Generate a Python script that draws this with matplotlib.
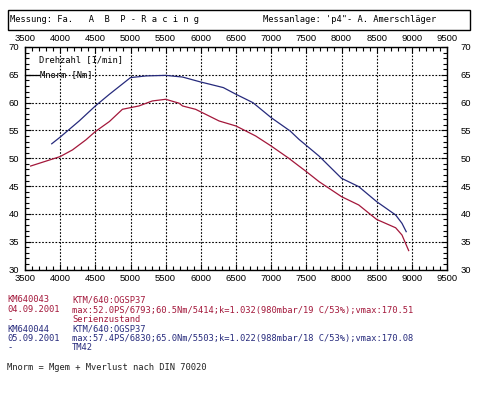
import matplotlib
matplotlib.use("Agg")
import matplotlib.pyplot as plt
from matplotlib.patches import Rectangle
from matplotlib.ticker import MultipleLocator

# ---- data ----
red_rpm = [3580, 4000, 4175, 4365, 4500, 4700, 4885, 5000, 5120, 5310, 5500, 5690,
           5740, 5925, 6260, 6500, 6780, 7000, 7250, 7395, 7500, 7680, 8000, 8245,
           8500, 8770, 8860, 8955]
red_nm = [48.6, 50.3, 51.5, 53.3, 54.8, 56.6, 58.8, 59.1, 59.4, 60.3, 60.6, 59.9,
          59.4, 58.8, 56.7, 55.8, 54.0, 52.2, 50.0, 48.6, 47.6, 45.8, 43.1, 41.6,
          39.0, 37.5, 36.2, 33.4]
blue_rpm = [3880, 4000, 4270, 4500, 4700, 5000, 5220, 5500, 5740, 6000, 6130, 6320,
            6500, 6740, 7000, 7270, 7395, 7500, 7680, 8000, 8245, 8500, 8770, 8860, 8920]
blue_nm = [52.6, 53.8, 56.7, 59.4, 61.5, 64.5, 64.8, 64.9, 64.6, 63.7, 63.3, 62.7,
           61.5, 60.0, 57.3, 54.9, 53.4, 52.3, 50.4, 46.4, 44.9, 42.2, 39.8, 38.3, 36.8]

x_ticks = [3500, 4000, 4500, 5000, 5500, 6000, 6500, 7000, 7500, 8000, 8500, 9000, 9500]
y_ticks = [30, 35, 40, 45, 50, 55, 60, 65, 70]

header_left = "Messung: Fa.   A  B  P - R a c i n g"
header_right = "Messanlage: 'p4\"- A. Amerschläger"
run1 = ["KM640043", "04.09.2001", "-"]
run1_info = ["KTM/640:OGSP37",
             "max:52.0PS/6793;60.5Nm/5414;k=1.032(980mbar/19 C/53%);vmax:170.51",
             "Serienzustand"]
run2 = ["KM640044", "05.09.2001", "-"]
run2_info = ["KTM/640:OGSP37",
             "max:57.4PS/6830;65.0Nm/5503;k=1.022(988mbar/18 C/53%);vmax:170.08",
             "TM42"]
footer = "Mnorm = Mgem + Mverlust nach DIN 70020"

RED = "#a3173a"
BLUE = "#262a7c"
W, H = 499, 397

fig = plt.figure(figsize=(W / 100, H / 100), dpi=100)
fig.patch.set_facecolor("white")

def fx(px):
    return px / W

def fy(py):
    return 1 - py / H

L, R, T, B = 25, 447, 47, 269.5
ax = fig.add_axes([fx(L), fy(B), fx(R - L), (B - T) / H])
ax.plot(red_rpm, red_nm, color=RED, lw=0.9)
ax.plot(blue_rpm, blue_nm, color=BLUE, lw=0.9)
ax.set_xlim(3500, 9500)
ax.set_ylim(30, 70)
ax.set_xticks(x_ticks)
ax.set_yticks(y_ticks)
ax.xaxis.set_minor_locator(MultipleLocator(100))
ax.yaxis.set_minor_locator(MultipleLocator(1))
ax.grid(True, which="major", color="black", lw=0.8, linestyle=(0, (1.5, 1.5)))
for s in ax.spines.values():
    s.set_linewidth(1.0)
tickfont = dict(family="Liberation Sans", size=6.5)
ax.tick_params(which="both", direction="in", top=True, right=True,
               labeltop=True, labelright=True, width=0.8, colors="black")
ax.tick_params(which="major", length=4.5)
ax.tick_params(which="minor", length=2.8)
ax.tick_params(axis="x", which="major", pad=3)
ax.tick_params(axis="y", which="major", pad=4)
ax.tick_params(axis="y", which="major", labelright=True)
for lab in ax.get_xticklabels() + ax.get_yticklabels():
    lab.set_fontfamily("Liberation Sans")
    lab.set_fontsize(6.8)
ax.yaxis.set_tick_params(which="major", pad=4)
for lab in ax.yaxis.get_ticklabels(which="major"):
    pass
# right labels further away
for t in ax.yaxis.get_major_ticks():
    t.label2.set_x(1.0)
ax.yaxis.set_tick_params(which="major", labelright=True)
ax.tick_params(axis="y", which="major", pad=4)
import matplotlib.transforms as mtrans
off = mtrans.ScaledTranslation(8 / 100, 0, fig.dpi_scale_trans)
for t in ax.yaxis.get_major_ticks():
    t.label2.set_transform(t.label2.get_transform() + off)

mono = "DejaVu Sans Mono"
fs = 6.3
ax.text(fx(39 - L) * W / (R - L), 1 - (60 - T) / (B - T), "Drehzahl [1/min]",
        transform=ax.transAxes, family=mono, size=fs, va="center", ha="left",
        color="black")
ax.text(fx(40 - L) * W / (R - L), 1 - (74.3 - T) / (B - T), "Mnorm [Nm]",
        transform=ax.transAxes, family=mono, size=fs, va="center", ha="left",
        color="black")
ax.plot([0, (39 - L) / (R - L)], [0.875, 0.875], transform=ax.transAxes,
        color="black", lw=0.9, clip_on=False)

# header box
fig.patches.append(Rectangle((fx(8), fy(30)), fx(462), 20 / H, transform=fig.transFigure,
                             fill=False, ec="black", lw=1.0))
fig.text(fx(10), fy(20), header_left, family=mono, size=fs, va="center", ha="left")
fig.text(fx(263), fy(20), header_right, family=mono, size=fs, va="center", ha="left")

ys1 = [300, 310, 319.5]
ys2 = [329, 338.5, 347.7]
for i in range(3):
    fig.text(fx(7), fy(ys1[i]), run1[i], family=mono, size=fs, va="center", color=RED)
    fig.text(fx(72), fy(ys1[i]), run1_info[i], family=mono, size=fs, va="center", color=RED)
    fig.text(fx(7), fy(ys2[i]), run2[i], family=mono, size=fs, va="center", color=BLUE)
    fig.text(fx(72), fy(ys2[i]), run2_info[i], family=mono, size=fs, va="center", color=BLUE)
fig.text(fx(7), fy(367.7), footer, family=mono, size=fs, va="center", color="#222222")

fig.savefig("out.png", dpi=100, facecolor="white")
